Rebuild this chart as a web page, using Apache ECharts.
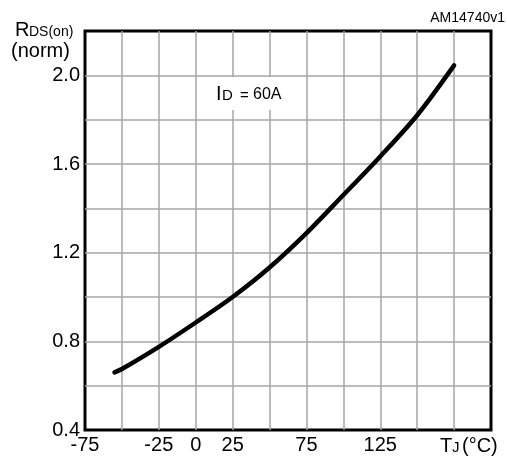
<!DOCTYPE html>
<html>
<head>
<meta charset="utf-8">
<script src="https://cdn.jsdelivr.net/npm/echarts@6/dist/echarts.min.js"></script>
<style>html,body{margin:0;padding:0;background:#fff}#c{width:507px;height:457px}</style>
</head>
<body>
<div id="c"></div>
<script>
// Data
const temperatures = [-55, -50, -25, 0, 25, 50, 75, 100, 125, 150, 175];
const rdsNorm = [0.66, 0.675, 0.775, 0.885, 1.0, 1.133, 1.288, 1.46, 1.634, 1.82, 2.045];
const xTickLabels = ['-75', '-25', '0', '25', '75', '125'];
const yTickLabels = ['0.4', '0.8', '1.2', '1.6', '2.0'];

const FONT = '"Liberation Sans", Arial, sans-serif';
const chart = echarts.init(document.getElementById('c'), null, {renderer: 'canvas'});

const seriesData = temperatures.map((t, i) => [t, rdsNorm[i]]);

chart.setOption({
  animation: false,
  backgroundColor: '#fff',
  grid: {
    left: 85, right: 16, top: 31, bottom: 27,
    show: true, borderColor: '#000', borderWidth: 3, backgroundColor: 'transparent'
  },
  xAxis: {
    type: 'value', min: -75, max: 200, interval: 25,
    axisLine: {show: false}, axisTick: {show: false},
    splitLine: {show: true, showMinLine: false, showMaxLine: false, lineStyle: {color: '#a6a6a6', width: 1.5}},
    axisLabel: {
      color: '#000', fontFamily: FONT, fontSize: 20, margin: 5,
      showMinLabel: true, showMaxLabel: true,
      formatter: function (v) {
        const s = String(Math.round(v));
        return xTickLabels.indexOf(s) >= 0 ? s : '';
      }
    }
  },
  yAxis: {
    type: 'value', min: 0.4, max: 2.2, interval: 0.2,
    axisLine: {show: false}, axisTick: {show: false},
    splitLine: {show: true, showMinLine: false, showMaxLine: false, lineStyle: {color: '#a6a6a6', width: 1.5}},
    axisLabel: {
      color: '#000', fontFamily: FONT, fontSize: 20, margin: 5,
      showMinLabel: true, showMaxLabel: true,
      formatter: function (v) {
        const s = v.toFixed(1);
        return yTickLabels.indexOf(s) >= 0 ? s : '';
      }
    }
  },
  series: [{
    type: 'line',
    data: seriesData,
    smooth: 0.3,
    showSymbol: false,
    lineStyle: {color: '#000', width: 4.5, cap: 'round', join: 'round'},
    z: 5
  }],
  graphic: [
    {
      type: 'rect', z: 10,
      shape: {x: 205, y: 77, width: 90, height: 33},
      style: {fill: '#fff'}
    },
    {type: 'text', z: 11, x: 216, y: 104, style: {text: 'I', fontFamily: FONT, fontSize: 20, fill: '#000', verticalAlign: 'bottom'}},
    {type: 'text', z: 11, x: 222, y: 103, style: {text: 'D', fontFamily: FONT, fontSize: 15, fill: '#000', verticalAlign: 'bottom'}},
    {type: 'text', z: 11, x: 240, y: 103, style: {text: '=', fontFamily: FONT, fontSize: 15, fill: '#000', verticalAlign: 'bottom'}},
    {type: 'text', z: 11, x: 253, y: 103, style: {text: '60A', fontFamily: FONT, fontSize: 16, fill: '#000', verticalAlign: 'bottom'}},
    {type: 'text', z: 11, x: 15, y: 40, style: {text: 'R', fontFamily: FONT, fontSize: 20, fill: '#000', verticalAlign: 'bottom'}},
    {type: 'text', z: 11, x: 29, y: 39, style: {text: 'DS(on)', fontFamily: FONT, fontSize: 14, fill: '#000', verticalAlign: 'bottom'}},
    {type: 'text', z: 11, x: 11, y: 61, style: {text: '(norm)', fontFamily: FONT, fontSize: 20, fill: '#000', verticalAlign: 'bottom'}},
    {type: 'text', z: 11, x: 505, y: 25, style: {text: 'AM14740v1', fontFamily: FONT, fontSize: 14, fill: '#000', align: 'right', verticalAlign: 'bottom'}},
    {type: 'text', z: 11, x: 440, y: 456, style: {text: 'T', fontFamily: FONT, fontSize: 20, fill: '#000', verticalAlign: 'bottom'}},
    {type: 'text', z: 11, x: 452, y: 455, style: {text: 'J', fontFamily: FONT, fontSize: 15, fill: '#000', verticalAlign: 'bottom'}},
    {type: 'text', z: 11, x: 462, y: 456, style: {text: '(°C)', fontFamily: FONT, fontSize: 20, fill: '#000', verticalAlign: 'bottom'}}
  ]
});
</script>
</body>
</html>
